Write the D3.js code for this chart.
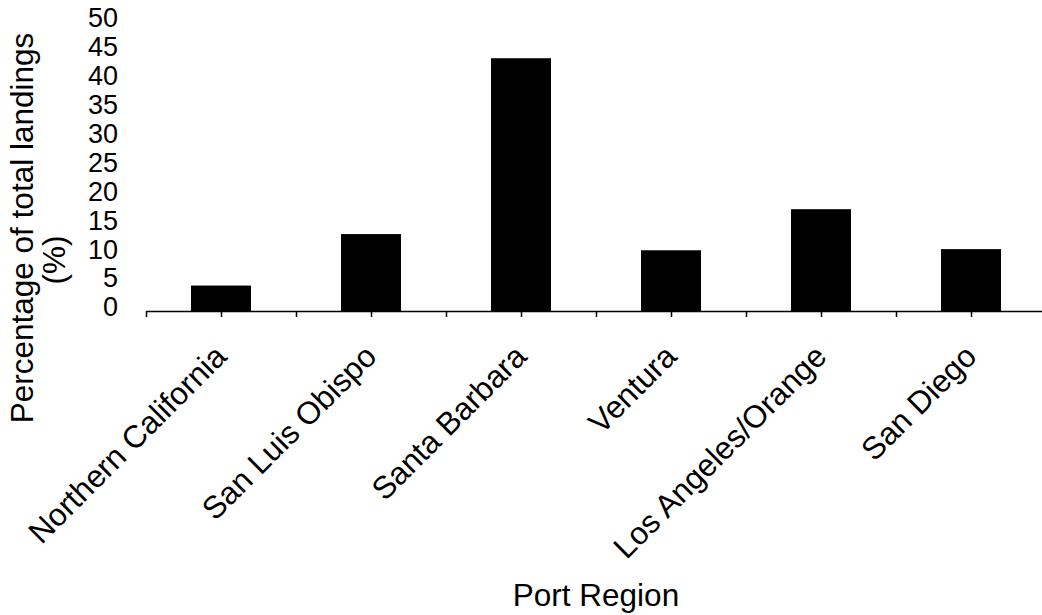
<!DOCTYPE html>
<html>
<head>
<meta charset="utf-8">
<script src="https://cdn.jsdelivr.net/npm/d3@7"></script>
<style>
  html, body { margin: 0; padding: 0; background: #fff; }
  svg { display: block; }
  text { font-family: "Liberation Sans", Arial, sans-serif; fill: #000; }
</style>
</head>
<body>
<svg id="chart" width="1042" height="615"></svg>
<script>
const categories = ["Northern California", "San Luis Obispo", "Santa Barbara", "Ventura", "Los Angeles/Orange", "San Diego"];
const values = [4.4, 13.3, 43.7, 10.5, 17.6, 10.7];
const yTicks = [0, 5, 10, 15, 20, 25, 30, 35, 40, 45, 50];
const xTitle = "Port Region";
const yTitleLines = ["Percentage of total landings", "(%)"];

const svg = d3.select("#chart");
const W = 1042, H = 615;
svg.append("rect").attr("width", W).attr("height", H).attr("fill", "#fff");

const x0 = 146, x1 = 1046, yBase = 311, yTop = 21.8;

const x = d3.scaleBand().domain(categories).range([x0, x1]).paddingInner(0.6).paddingOuter(0.3);
const y = d3.scaleLinear().domain([0, 50]).range([yBase, yTop]);
const xi = d3.scaleLinear().domain([0, categories.length]).range([x0, x1]);

// bars
svg.append("g").selectAll("rect").data(values).join("rect")
  .attr("x", (d, i) => x(categories[i]))
  .attr("y", d => y(d))
  .attr("width", x.bandwidth())
  .attr("height", d => y(0) - y(d))
  .attr("fill", "#000");

// x axis (ticks at boundaries and centers)
const xAxis = d3.axisBottom(xi)
  .tickValues(d3.range(0, categories.length + 0.01, 0.5))
  .tickSize(6).tickSizeOuter(0).tickFormat("");
const gx = svg.append("g").attr("transform", `translate(0,${yBase})`).call(xAxis);
gx.select(".domain").attr("stroke", "#000").attr("stroke-width", 1.5);
gx.selectAll(".tick line").attr("stroke", "#000").attr("stroke-width", 1.5);

// category labels
svg.append("g").selectAll("text").data(categories).join("text")
  .attr("transform", d => `translate(${x(d) + x.bandwidth() / 2 - 6},${yBase + 34}) rotate(-45)`)
  .attr("text-anchor", "end")
  .attr("dy", "0.6em")
  .style("font-size", "31.5px")
  .text(d => d);

// y axis labels only
const yAxis = d3.axisLeft(y).tickValues(yTicks).tickSize(0).tickPadding(0).tickFormat(d3.format("d"));
const gy = svg.append("g").attr("transform", `translate(118,-3.8)`).call(yAxis);
gy.select(".domain").remove();
gy.selectAll(".tick text").style("font-size", "27px").style("font-family", '"Liberation Sans", Arial, sans-serif').attr("fill", "#000");

// titles
svg.append("text")
  .attr("x", 596).attr("y", 606)
  .attr("text-anchor", "middle")
  .style("font-size", "31.5px")
  .text(xTitle);

svg.append("text")
  .attr("transform", "translate(33,228) rotate(-90)")
  .attr("text-anchor", "middle")
  .style("font-size", "31.5px")
  .text(yTitleLines[0]);
svg.append("text")
  .attr("transform", "translate(65,260) rotate(-90)")
  .attr("text-anchor", "middle")
  .style("font-size", "31.5px")
  .text(yTitleLines[1]);
</script>
</body>
</html>
